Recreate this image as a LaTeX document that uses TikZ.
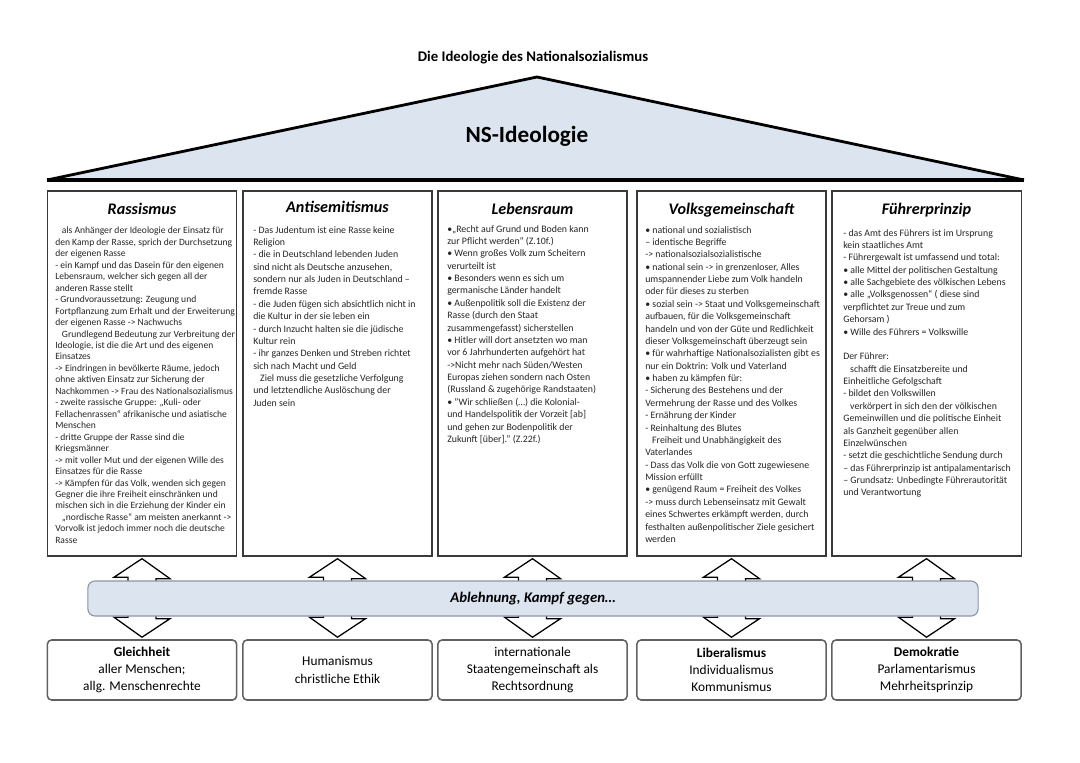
\documentclass[tikz,border=0pt]{standalone}
\usepackage{fontspec}
\setmainfont{Carlito}
\usepackage{tikz}
\usetikzlibrary{
	calc,
	positioning}

\definecolor{ideoblue}{HTML}{DCE4F0}
\definecolor{rahmen}{HTML}{3A3A3A}
\definecolor{balken}{HTML}{8C96A3}

\begin{document}
\begin{tikzpicture}[x=0.025cm,y=-0.025cm,
    saeule/.style={draw=rahmen, line width=0.9pt, fill=white,
      minimum width=4.73cm, minimum height=9.125cm, inner sep=0pt},
    kopf/.style={anchor=base, font=\fontsize{11.5}{13}\selectfont\bfseries\itshape},
    inhalt/.style={anchor=north west, align=left, inner sep=0pt,
      text=black!85, font=\fontsize{7}{8.8}\selectfont},
    gegner/.style={draw=rahmen!80, line width=1.1pt, fill=white, rounded corners=3pt,
      minimum width=4.73cm, minimum height=1.5cm, align=center,
      font=\fontsize{9.5}{12.3}\selectfont},
    pfeil/.style={draw=black, line width=0.9pt, fill=white, line join=miter}]
    \useasboundingbox (0,0) rectangle (1080,763);

    % Dach
    \coordinate (links) at (47,180);
    \coordinate (spitze) at (537,77);
    \coordinate (rechts) at (1024,180);
    \fill[ideoblue] (links) -- (spitze) -- (rechts) -- cycle;
    \draw[line width=2pt, line join=round] (links) -- (spitze) -- (rechts);
    \draw[line width=2.6pt] (links) -- (rechts);
    \node (titel) at (533,58) {\fontsize{10.5}{12}\selectfont\bfseries Die Ideologie des Nationalsozialismus};
    \node (ns) at (527,136) {\fontsize{16.5}{18}\selectfont\bfseries NS-Ideologie};

    % Saeulen
    \node[saeule] (ras) at (142,373.5) {};
    \node[saeule] (anti) at (337.5,373.5) {};
    \node[saeule] (leb) at (532.5,373.5) {};
    \node[saeule] (volk) at (731.5,373.5) {};
    \node[saeule] (fuehr) at (926.5,373.5) {};

    \node[kopf] (rasKopf) at (142,214) {Rassismus};
    \node[kopf] (antiKopf) at (337.5,212) {Antisemitismus};
    \node[kopf] (lebKopf) at (532.5,214) {Lebensraum};
    \node[kopf] (volkKopf) at (731.5,214) {Volksgemeinschaft};
    \node[kopf] (fuehrKopf) at (926.5,214) {Führerprinzip};

    \node[inhalt, font=\fontsize{6.8}{8.15}\selectfont] (rasText) at (55,227) {%
      \hspace*{0.7em}als Anhänger der Ideologie der Einsatz für\\
      den Kamp der Rasse, sprich der Durchsetzung\\
      der eigenen Rasse\\
      - ein Kampf und das Dasein für den eigenen\\
      Lebensraum, welcher sich gegen all der\\
      anderen Rasse stellt\\
      - Grundvoraussetzung: Zeugung und\\
      Fortpflanzung zum Erhalt und der Erweiterung\\
      der eigenen Rasse -> Nachwuchs\\
      \hspace*{0.7em}Grundlegend Bedeutung zur Verbreitung der\\
      Ideologie, ist die die Art und des eigenen\\
      Einsatzes\\
      -> Eindringen in bevölkerte Räume, jedoch\\
      ohne aktiven Einsatz zur Sicherung der\\
      Nachkommen -> Frau des Nationalsozialismus\\
      - zweite rassische Gruppe: „Kuli- oder\\
      Fellachenrassen“ afrikanische und asiatische\\
      Menschen\\
      - dritte Gruppe der Rasse sind die\\
      Kriegsmänner\\
      -> mit voller Mut und der eigenen Wille des\\
      Einsatzes für die Rasse\\
      -> Kämpfen für das Volk, wenden sich gegen\\
      Gegner die ihre Freiheit einschränken und\\
      mischen sich in die Erziehung der Kinder ein\\
      \hspace*{0.7em}„nordische Rasse“ am meisten anerkannt ->\\
      Vorvolk ist jedoch immer noch die deutsche\\
      Rasse};

    \node[inhalt] (antiText) at (253,226) {%
      - Das Judentum ist eine Rasse keine\\
      Religion\\
      - die in Deutschland lebenden Juden\\
      sind nicht als Deutsche anzusehen,\\
      sondern nur als Juden in Deutschland –\\
      fremde Rasse\\
      - die Juden fügen sich absichtlich nicht in\\
      die Kultur in der sie leben ein\\
      - durch Inzucht halten sie die jüdische\\
      Kultur rein\\
      - ihr ganzes Denken und Streben richtet\\
      sich nach Macht und Geld\\
      \hspace*{0.7em}Ziel muss die gesetzliche Verfolgung\\
      und letztendliche Auslöschung der\\
      Juden sein};

    \node[inhalt] (lebText) at (447,225) {%
      •„Recht auf Grund und Boden kann\\
      zur Pflicht werden“ (Z.10f.)\\
      • Wenn großes Volk zum Scheitern\\
      verurteilt ist\\
      • Besonders wenn es sich um\\
      germanische Länder handelt\\
      • Außenpolitik soll die Existenz der\\
      Rasse (durch den Staat\\
      zusammengefasst) sicherstellen\\
      • Hitler will dort ansetzten wo man\\
      vor 6 Jahrhunderten aufgehört hat\\
      ->Nicht mehr nach Süden/Westen\\
      Europas ziehen sondern nach Osten\\
      (Russland \& zugehörige Randstaaten)\\
      • "Wir schließen (…) die Kolonial-\\
      und Handelspolitik der Vorzeit [ab]\\
      und gehen zur Bodenpolitik der\\
      Zukunft [über]." (Z.22f.)};

    \node[inhalt] (volkText) at (645,226) {%
      • national und sozialistisch\\
      – identische Begriffe\\
      -> nationalsozialsozialistische\\
      • national sein -> in grenzenloser, Alles\\
      umspannender Liebe zum Volk handeln\\
      oder für dieses zu sterben\\
      • sozial sein -> Staat und Volksgemeinschaft\\
      aufbauen, für die Volksgemeinschaft\\
      handeln und von der Güte und Redlichkeit\\
      dieser Volksgemeinschaft überzeugt sein\\
      • für wahrhaftige Nationalsozialisten gibt es\\
      nur ein Doktrin: Volk und Vaterland\\
      • haben zu kämpfen für:\\
      - Sicherung des Bestehens und der\\
      Vermehrung der Rasse und des Volkes\\
      - Ernährung der Kinder\\
      - Reinhaltung des Blutes\\
      \hspace*{0.7em}Freiheit und Unabhängigkeit des\\
      Vaterlandes\\
      - Dass das Volk die von Gott zugewiesene\\
      Mission erfüllt\\
      • genügend Raum = Freiheit des Volkes\\
      -> muss durch Lebenseinsatz mit Gewalt\\
      eines Schwertes erkämpft werden, durch\\
      festhalten außenpolitischer Ziele gesichert\\
      werden};

    \node[inhalt] (fuehrText) at (843,229) {%
      - das Amt des Führers ist im Ursprung\\
      kein staatliches Amt\\
      - Führergewalt ist umfassend und total:\\
      • alle Mittel der politischen Gestaltung\\
      • alle Sachgebiete des völkischen Lebens\\
      • alle „Volksgenossen“ ( diese sind\\
      verpflichtet zur Treue und zum\\
      Gehorsam )\\
      • Wille des Führers = Volkswille\\[8.8pt]
      Der Führer:\\
      \hspace*{0.7em}schafft die Einsatzbereite und\\
      Einheitliche Gefolgschaft\\
      - bildet den Volkswillen\\
      \hspace*{0.7em}verkörpert in sich den der völkischen\\
      Gemeinwillen und die politische Einheit\\
      als Ganzheit gegenüber allen\\
      Einzelwünschen\\
      - setzt die geschichtliche Sendung durch\\
      – das Führerprinzip ist antipalamentarisch\\
      – Grundsatz: Unbedingte Führerautorität\\
      und Verantwortung};

    % Gegenpositionen
    \node[gegner] (gleich) at (142,670) {\textbf{Gleichheit}\\aller Menschen;\\allg. Menschenrechte};
    \node[gegner] (human) at (337.5,670) {Humanismus\\christliche Ethik};
    \node[gegner] (intl) at (532.5,670) {internationale\\Staatengemeinschaft als\\Rechtsordnung};
    \node[gegner] (lib) at (731.5,670) {\textbf{Liberalismus}\\Individualismus\\Kommunismus};
    \node[gegner] (demo) at (926.5,670) {\textbf{Demokratie}\\Parlamentarismus\\Mehrheitsprinzip};

    % Doppelpfeile
    \foreach \oben/\unten in {ras/gleich, anti/human, leb/intl, volk/lib, fuehr/demo}
      \draw[pfeil] ($(\oben.south)+(0,2)$) -- ++(28,20) -- ++(-14,0) -- ++(0,40)
        -- ++(14,0) -- ($(\unten.north)+(0,-2)$) -- ++(-28,-20) -- ++(14,0)
        -- ++(0,-40) -- ++(-14,0) -- cycle;

    \node[draw=balken, line width=0.8pt, fill=ideoblue, rounded corners=5pt,
      minimum width=22.25cm, minimum height=0.875cm] (kampf) at (533,598.5)
      {\fontsize{10.5}{12}\selectfont\bfseries\itshape Ablehnung, Kampf gegen…};
\end{tikzpicture}
\end{document}
